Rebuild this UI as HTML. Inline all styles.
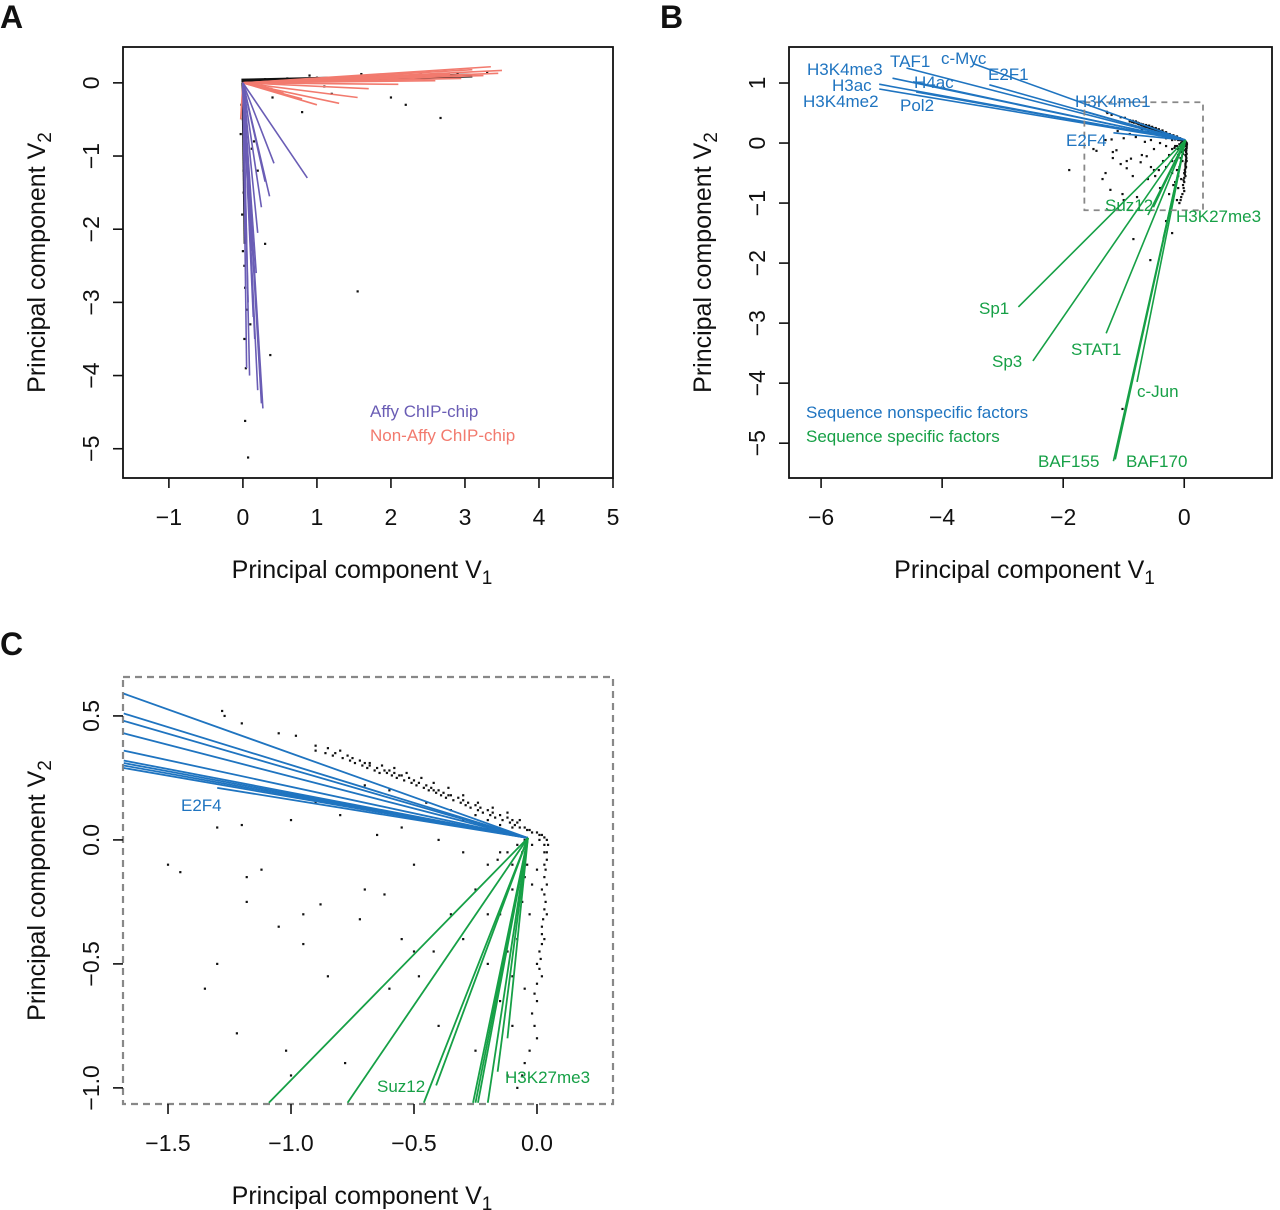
<!DOCTYPE html>
<html><head><meta charset="utf-8"><style>
body{margin:0;background:#fff}
svg{display:block;font-family:"Liberation Sans",Arial,sans-serif}
</style></head><body>
<svg id="fig" width="1280" height="1210" viewBox="0 0 1280 1210" xmlns="http://www.w3.org/2000/svg">
<g id="root"></g>
</svg>
<script>
// ---------- Panel A data ----------
const aNonAffyEnds=[[3.5,0.17],[3.45,0.13],[3.35,0.22],[3.25,0.1],[3.1,0.18],[2.95,0.06],[2.8,0.12],[2.6,0.03],[2.4,0.05],[2.1,-0.02],[1.9,0.08],[1.7,-0.08],[1.55,-0.2],[1.3,-0.28],[1.0,-0.3],[0.8,-0.22],[0.55,-0.14],[0.4,-0.08],[0.02,-0.6],[-0.03,-0.5]];
const aAffyEnds=[[0.87,-1.3],[0.42,-1.1],[0.36,-1.55],[0.3,-1.35],[0.25,-1.7],[0.2,-2.05],[0.12,-2.3],[0.18,-2.6],[0.14,-3.2],[0.16,-3.5],[0.2,-4.2],[0.27,-4.45],[0.25,-4.38],[0.05,-3.9],[0.09,-4.0],[0.07,-3.0],[0.04,-2.0]];
const aPoints=[[0.03,-4.62],[0.07,-5.12],[1.55,-2.85],[0.37,-3.72],[2.67,-0.48],[0.3,-2.2],[0.1,-3.3],[0.02,-1.0],[0.0,-0.5],[0.01,-1.5],[0.02,-2.5],[0.05,-3.1],[0.0,-0.2],[0.3,0.05],[0.6,0.06],[1.0,0.07],[1.4,0.08],[1.8,0.08],[2.2,0.1],[2.6,0.09],[3.0,0.1],[2.0,-0.2],[1.2,-0.15],[0.8,-0.4],[2.2,-0.3],[3.3,0.15],[0.15,-0.8],[0.2,-1.2],[-0.02,-0.3],[-0.03,-0.7],[0.01,-1.2],[-0.01,-1.8],[0.0,-2.3],[0.03,-2.8],[0.02,-3.5],[0.04,-3.9],[0.1,-1.6],[0.12,-0.9],[0.5,0.02],[0.9,0.1],[1.6,0.12],[2.4,0.14],[2.9,0.13],[1.1,-0.05],[0.4,-0.2]];
// ---------- Panel B data ----------
const bBlueEnds=[[-4.59,1.25],[-3.48,1.32],[-3.22,0.97],[-4.82,1.08],[-4.48,1.02],[-5.04,0.98],[-5.04,0.9],[-4.43,0.85],[-1.72,0.55],[-1.17,0.17]];
const bGreenEnds=[[-2.74,-2.73],[-2.5,-3.63],[-1.29,-3.17],[-0.78,-3.98],[-1.17,-5.3],[-1.14,-5.27],[-0.51,-1.07],[-0.18,-0.9],[-0.6,-1.2],[-0.35,-1.6]];
const bExtraPoints=[[-1.9,-0.45],[-1.02,-4.43],[-0.56,-1.95],[-0.84,-1.6],[-0.3,-1.3],[-0.2,-1.5]];
// ---------- Panel C data ----------
const cBlueEnds=[[-1.68,0.59],[-1.68,0.51],[-1.68,0.48],[-1.68,0.43],[-1.68,0.36],[-1.68,0.32],[-1.68,0.31],[-1.68,0.30],[-1.68,0.29],[-1.3,0.21]];
const cGreenEnds=[[-1.09,-1.06],[-0.77,-1.06],[-0.46,-1.06],[-0.41,-0.99],[-0.26,-1.06],[-0.25,-1.06],[-0.24,-1.06],[-0.16,-0.935],[-0.2,-1.06],[-0.12,-0.8]];
const sharedPoints=[[-1.28,0.52],[-1.27,0.5],[-1.2,0.47],[-1.05,0.43],[-0.98,0.42],[-0.9,0.38],[-0.85,0.37],[-0.82,0.35],[-0.8,0.36],[-0.77,0.34],[-0.75,0.33],[-0.72,0.32],[-0.7,0.31],[-0.68,0.3],[-0.65,0.29],[-0.62,0.28],[-0.6,0.28],[-0.58,0.27],[-0.56,0.26],[-0.55,0.26],[-0.52,0.25],[-0.5,0.24],[-0.48,0.23],[-0.45,0.22],[-0.43,0.21],[-0.42,0.2],[-0.4,0.2],[-0.38,0.19],[-0.36,0.18],[-0.35,0.18],[-0.32,0.17],[-0.3,0.16],[-0.28,0.15],[-0.25,0.14],[-0.23,0.13],[-0.2,0.12],[-0.18,0.11],[-0.15,0.1],[-0.12,0.09],[-0.1,0.08],[-0.08,0.07],[-0.05,0.05],[-0.03,0.04],[0,0.03],[0.02,0.02],
[-1.5,-0.1],[-1.45,-0.13],[-1.3,-0.5],[-1.35,-0.6],[-1.22,-0.78],[-1.02,-0.85],[-1.0,-0.95],[-0.85,-0.55],[-0.95,-0.42],[-0.88,-0.26],[-1.18,-0.15],[-1.12,-0.12],[-1.18,-0.25],[-0.7,-0.2],[-0.72,-0.32],[-0.62,-0.22],[-0.55,-0.4],[-0.5,-0.45],[-0.48,-0.55],[-0.42,-0.45],[-0.35,-0.3],[-0.3,-0.4],[-0.2,-0.5],[-0.15,-0.3],[-0.1,-0.2],[-0.08,-0.4],[-0.05,-0.6],[0.0,-0.5],[0.02,-0.2],[0.03,-0.1],[0.04,-0.3],[-0.02,-0.7],[0.0,-0.8],[-0.05,-0.9],[-0.1,-0.75],[-0.12,-0.95],[-0.25,-0.85],[-0.4,-0.75],[-0.6,-0.6],[-0.78,-0.9],[-0.95,-0.3],[-1.05,-0.35],[-0.2,-0.1],[-0.3,-0.05],[-0.5,-0.1],[-0.55,0.05],[-0.65,0.02],[-0.8,0.1],[-0.9,0.15],[-1.0,0.08],[-1.1,0.2],[-1.2,0.06],[-1.3,0.05],[-0.4,0.0],[-0.15,-0.05],[-0.1,-0.1],[-0.05,-0.15],[0.03,-0.05],[0.02,-0.35],[0.01,-0.45],[0.03,-0.15],[0.035,-0.25],[0.03,-0.4],[0.02,-0.55],[0.0,-0.65],[-0.01,-0.75],[-0.03,-0.85],[-0.06,-0.95],[-0.08,-1.0],[-0.1,-0.55],[-0.12,-0.45],[-0.15,-0.65],[-0.18,-0.7],[-0.2,-0.3],[-0.25,-0.2],[-0.06,-0.05],[-0.02,-0.02],[0.01,0.0],[0.03,-0.02],[-0.35,0.12],[-0.45,0.15],[-0.6,0.2],[-0.7,0.22],[-0.3,0.08],[-0.2,0.05],[-0.25,0.1]];
const bandPoints=[[-0.9,0.36],[-0.86,0.35],[-0.83,0.34],[-0.79,0.33],[-0.76,0.32],[-0.74,0.31],[-0.71,0.3],[-0.69,0.29],[-0.66,0.28],[-0.64,0.27],[-0.61,0.27],[-0.59,0.26],[-0.57,0.25],[-0.54,0.24],[-0.51,0.23],[-0.49,0.22],[-0.46,0.21],[-0.44,0.2],[-0.41,0.19],[-0.39,0.18],[-0.37,0.17],[-0.34,0.16],[-0.31,0.15],[-0.29,0.14],[-0.27,0.13],[-0.24,0.12],[-0.22,0.11],[-0.19,0.1],[-0.17,0.09],[-0.14,0.08],[-0.11,0.07],[-0.09,0.06],[-0.07,0.05],[-0.04,0.04],[-0.02,0.03],[0.01,0.02],[0.03,0.01],[0.04,0.0],[0.045,-0.02],[0.04,-0.05],[0.04,-0.08],[0.035,-0.12],[0.04,-0.18],[0.03,-0.22],[0.03,-0.28],[0.025,-0.32],[0.02,-0.38],[0.02,-0.42],[0.015,-0.48],[0.01,-0.52],[0.0,-0.58],[-0.01,-0.62],[-0.68,0.31],[-0.63,0.3],[-0.58,0.29],[-0.53,0.27],[-0.47,0.25],[-0.42,0.23],[-0.36,0.21],[-0.3,0.18],[-0.24,0.15],[-0.18,0.13],[-0.12,0.11],[-0.07,0.08],[-0.1,0.05],[-0.15,0.06],[-0.2,0.08],[-0.05,0.0],[-0.08,-0.02],[-0.12,-0.05],[-0.16,-0.08],[-0.04,-0.1],[0.0,-0.12],[-0.02,-0.18],[-0.06,-0.25],[-0.03,-0.3]];
const aXTicks=[-1,0,1,2,3,4,5], aYTicks=[0,-1,-2,-3,-4,-5];
const bXTicks=[-6,-4,-2,0], bYTicks=[1,0,-1,-2,-3,-4,-5];
const cXTicks=["-1.5","-1.0","-0.5","0.0"], cYTicks=["0.5","0.0","-0.5","-1.0"];

const NS="http://www.w3.org/2000/svg";
const root=document.getElementById('root');
function el(tag,attrs,parent,text){const e=document.createElementNS(NS,tag);for(const k in attrs)e.setAttribute(k,attrs[k]);if(text!==undefined)e.textContent=text;(parent||root).appendChild(e);return e;}
const BLUE="#1f74c0",GREEN="#16a046",PURPLE="#6a5db5",SALMON="#f27a6e";
function minus(s){return String(s).replace('-','\u2212');}

function panel(id,box,xs,ys,xt,yt,dashed){
  const g=el('g',{});
  
  
  const X=v=>box.x0+(v-xs[0])*(box.x1-box.x0)/(xs[1]-xs[0]);
  const Y=v=>box.y0+(ys[1]-v)*(box.y1-box.y0)/(ys[1]-ys[0]);
  const r=el('rect',{x:box.x0,y:box.y0,width:box.x1-box.x0,height:box.y1-box.y0,fill:'none',stroke:dashed?'#888':'#111','stroke-width':dashed?2.2:1.8,'stroke-dasharray':dashed?'7,5':'none'},g);
  
  
  const ax=el('g',{},g);
  
  
  xt.forEach(t=>{const x=X(+t);el('line',{x1:x,x2:x,y1:box.y1,y2:box.y1+10,stroke:'#111','stroke-width':1.6},ax);
    const tx=el('text',{x:x,y:box.y1+47,'font-size':23,'text-anchor':'middle',fill:'#111'},ax,minus(t));
    
    });
  const ay=el('g',{},g);
  
  
  yt.forEach(t=>{const y=Y(+t);el('line',{x1:box.x0-10,x2:box.x0,y1:y,y2:y,stroke:'#111','stroke-width':1.6},ay);
    const ty=el('text',{x:box.x0-24,y:y,'font-size':23,'text-anchor':'middle',fill:'#111',transform:`rotate(-90 ${box.x0-24} ${y})`},ay,minus(t));
    
    });
  const cx=(box.x0+box.x1)/2-6;
  const xl=el('text',{x:cx,y:box.y1+100,'font-size':25,'text-anchor':'middle',fill:'#111'},g);
  xl.innerHTML='Principal component V<tspan font-size="19" dy="6">1</tspan>';
  
  
  const cy=(box.y0+box.y1)/2, lx=box.x0-78;
  const yl=el('text',{x:lx,y:cy,'font-size':25,'text-anchor':'middle',fill:'#111',transform:`rotate(-90 ${lx} ${cy})`},g);
  yl.innerHTML='Principal component V<tspan font-size="19" dy="6">2</tspan>';
  
  
  const clipId='clip-'+id;
  const cp=el('clipPath',{id:clipId},g);el('rect',{x:box.x0,y:box.y0,width:box.x1-box.x0,height:box.y1-box.y0},cp);
  const plot=el('g',{'clip-path':`url(#${clipId})`},g);
  return {g,X,Y,plot};
}
function dots(p,pts,name){
  const gg=el('g',{},p.plot);
  
  
  pts.forEach(d=>{const c=el('rect',{x:p.X(d[0])-1.1,y:p.Y(d[1])-1.1,width:2.2,height:2.2,fill:'#111'},gg);
    
    });
}
function vectors(p,origin,ends,color,name,w){
  const gg=el('g',{},p.plot);
  
  
  ends.forEach(d=>{const l=el('line',{x1:p.X(origin[0]),y1:p.Y(origin[1]),x2:p.X(d[0]),y2:p.Y(d[1]),stroke:color,'stroke-width':w||1.8},gg);
    
    });
}
function label(x,y,txt,color,size,anchor,name,parent){
  const t=el('text',{x:x,y:y,'font-size':size||17,fill:color,'text-anchor':anchor||'start'},parent,txt);
  
  
  return t;
}

// Panel A
const pA=panel('panel-a',{x0:123,x1:613,y0:47,y1:478},[-1.62,5.0],[-5.4,0.49],aXTicks,aYTicks,false);
dots(pA,aPoints,'panel-a-points');
(function(){const gg=el('g',{},pA.plot);
 el('path',{d:`M${pA.X(-0.02)},${pA.Y(0.03)} L${pA.X(3.1)},${pA.Y(0.1)}`,stroke:'#111','stroke-width':4,fill:'none'},gg);
 el('path',{d:`M${pA.X(0.0)},${pA.Y(0.0)} L${pA.X(0.03)},${pA.Y(-2.2)}`,stroke:'#111','stroke-width':3,fill:'none'},gg);})();
vectors(pA,[0,0],aNonAffyEnds,SALMON,'non-affy-vectors',1.6);
vectors(pA,[0,0],aAffyEnds,PURPLE,'affy-vectors',1.6);
label(370,417,'Affy ChIP-chip',PURPLE,17,'start','legend-affy',pA.g);
label(370,441,'Non-Affy ChIP-chip',SALMON,17,'start','legend-non-affy',pA.g);

// Panel B
const pB=panel('panel-b',{x0:789,x1:1272,y0:47,y1:478},[-6.53,1.45],[-5.58,1.6],bXTicks,bYTicks,false);
dots(pB,sharedPoints.concat(bExtraPoints,bandPoints),'panel-b-points');
vectors(pB,[0.02,0.05],bBlueEnds,BLUE,'nonspecific-vectors',1.6);
vectors(pB,[0.02,0.05],bGreenEnds,GREEN,'specific-vectors',1.6);
(function(){const r=el('rect',{x:pB.X(-1.65),y:pB.Y(0.68),width:pB.X(0.31)-pB.X(-1.65),height:pB.Y(-1.12)-pB.Y(0.68),fill:'none',stroke:'#888','stroke-width':1.8,'stroke-dasharray':'6,5'},pB.g);
 
 })();
[["H3K4me3",807,75],["TAF1",890,67],["c-Myc",941,64],["E2F1",988,80],["H3ac",832,91],["H4ac",914,88],["H3K4me2",803,107],["Pol2",900,111],["H3K4me1",1075,107],["E2F4",1066,146]].forEach(l=>label(l[1],l[2],l[0],BLUE,17,'start','vector-label'));
[["Suz12",1105,211],["H3K27me3",1176,222],["Sp1",979,314],["Sp3",992,367],["STAT1",1071,355],["c-Jun",1137,397],["BAF155",1038,467],["BAF170",1126,467]].forEach(l=>label(l[1],l[2],l[0],GREEN,17,'start','vector-label'));
label(806,418,'Sequence nonspecific factors',BLUE,17,'start','legend-nonspecific');
label(806,442,'Sequence specific factors',GREEN,17,'start','legend-specific');

// Panel C
const pC=panel('panel-c',{x0:123,x1:613,y0:677,y1:1104},[-1.683,0.309],[-1.065,0.657],cXTicks,cYTicks,true);
dots(pC,sharedPoints.concat(bandPoints),'panel-c-points');
vectors(pC,[-0.037,0.008],cBlueEnds,BLUE,'nonspecific-vectors-zoom',1.8);
vectors(pC,[-0.037,0.008],cGreenEnds,GREEN,'specific-vectors-zoom',1.8);
label(181,811,'E2F4',BLUE,17,'start','vector-label');
label(377,1092,'Suz12',GREEN,17,'start','vector-label');
label(505,1083,'H3K27me3',GREEN,17,'start','vector-label');

// panel letters
[["A",0,28],["B",660,28],["C",0,655]].forEach(l=>{const t=el('text',{x:l[1],y:l[2],'font-size':32,'font-weight':'bold',fill:'#111'},root,l[0]);
  
  });
</script>
</body></html>
